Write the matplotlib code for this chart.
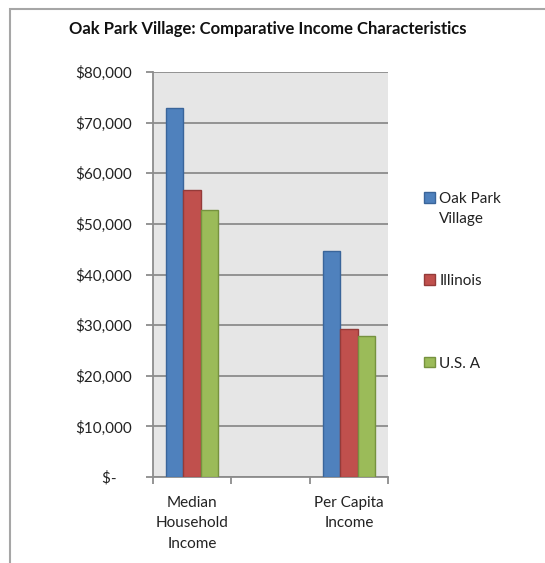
import numpy as np
import matplotlib
matplotlib.use("Agg")
import matplotlib.pyplot as plt
import matplotlib.patches as patches
from matplotlib.ticker import FuncFormatter, FixedLocator

plt.rcParams['font.family'] = ['Lato', 'DejaVu Sans']

# --------------------------------------------------------------------------
# Data
# --------------------------------------------------------------------------
categories = ["Median\nHousehold\nIncome", "", "Per Capita\nIncome"]
series_names = ["Oak Park\nVillage", "Illinois", "U.S. A"]
oak_park = [72900, np.nan, 44600]
illinois = [56600, np.nan, 29300]
usa = [52700, np.nan, 27900]

fills = ["#4F81BD", "#C0504D", "#9BBB59"]
edges = ["#3A659A", "#943B39", "#76923F"]

W, H = 545, 563
fig = plt.figure(figsize=(W / 100, H / 100), dpi=100)

# chart frame (runs off the right and bottom of the image)
frame = patches.Rectangle((10 / W, -0.1), 1.2, (H - 9) / H + 0.1,
                          transform=fig.transFigure, fill=False,
                          edgecolor="#A6A6A6", lw=1.5)
fig.patches.append(frame)

ax = fig.add_axes([153 / W, (H - 477) / H, 235 / W, 405 / H])
ax.set_facecolor("#E6E6E6")

x = np.arange(len(categories))
bw = 0.223
for i, vals in enumerate([oak_park, illinois, usa]):
    # pad one-line names so every legend entry has the same height
    name = series_names[i] if "\n" in series_names[i] else series_names[i] + "\n"
    ax.bar(x + (i - 1) * bw, vals, width=bw, color=fills[i],
           edgecolor=edges[i], linewidth=1.0, label=name, zorder=3)

ax.set_xlim(-0.5, 2.5)
ax.set_ylim(0, 80000)
ax.set_yticks(np.arange(0, 80001, 10000))
ax.yaxis.set_major_formatter(FuncFormatter(
    lambda v, p: "$-    " if v == 0 else "${:,.0f}".format(v)))
ax.grid(axis="y", color="#8C8C8C", lw=1.3, zorder=1)

ax.set_xticks(x)
ax.set_xticklabels(categories, linespacing=1.55, va="top")
ax.xaxis.set_minor_locator(FixedLocator([-0.5, 0.5, 1.5, 2.5]))
ax.tick_params(axis="x", which="major", length=0, pad=14, labelsize=11,
               colors="#222222")
ax.tick_params(axis="x", which="minor", length=5, width=1.3, color="#8C8C8C")
ax.tick_params(axis="y", length=5, width=1.3, color="#8C8C8C", pad=10,
               labelsize=11, labelcolor="#222222")

for side in ["top", "right"]:
    ax.spines[side].set_visible(False)
for side in ["left", "bottom"]:
    ax.spines[side].set_color("#8C8C8C")
    ax.spines[side].set_linewidth(1.3)

fig.text(267.5 / W, 1 - 29 / H,
         "Oak Park Village: Comparative Income Characteristics",
         ha="center", va="center", fontsize=12, fontweight="bold",
         color="#111111")

leg = ax.legend(loc="upper left", bbox_to_anchor=(424 / W, 1 - 192 / H),
                bbox_transform=fig.transFigure, frameon=False,
                fontsize=11, handlelength=0.7, handleheight=0.7,
                handletextpad=0.3, labelspacing=3.2, borderpad=0,
                borderaxespad=0)
for t in leg.get_texts():
    t.set_color("#222222")
    t.set_linespacing(1.5)
# square sits beside the first line of each label
for col in leg._legend_handle_box.get_children():
    for row in col.get_children():
        row.align = "top"

fig.savefig("out.png", dpi=100)
